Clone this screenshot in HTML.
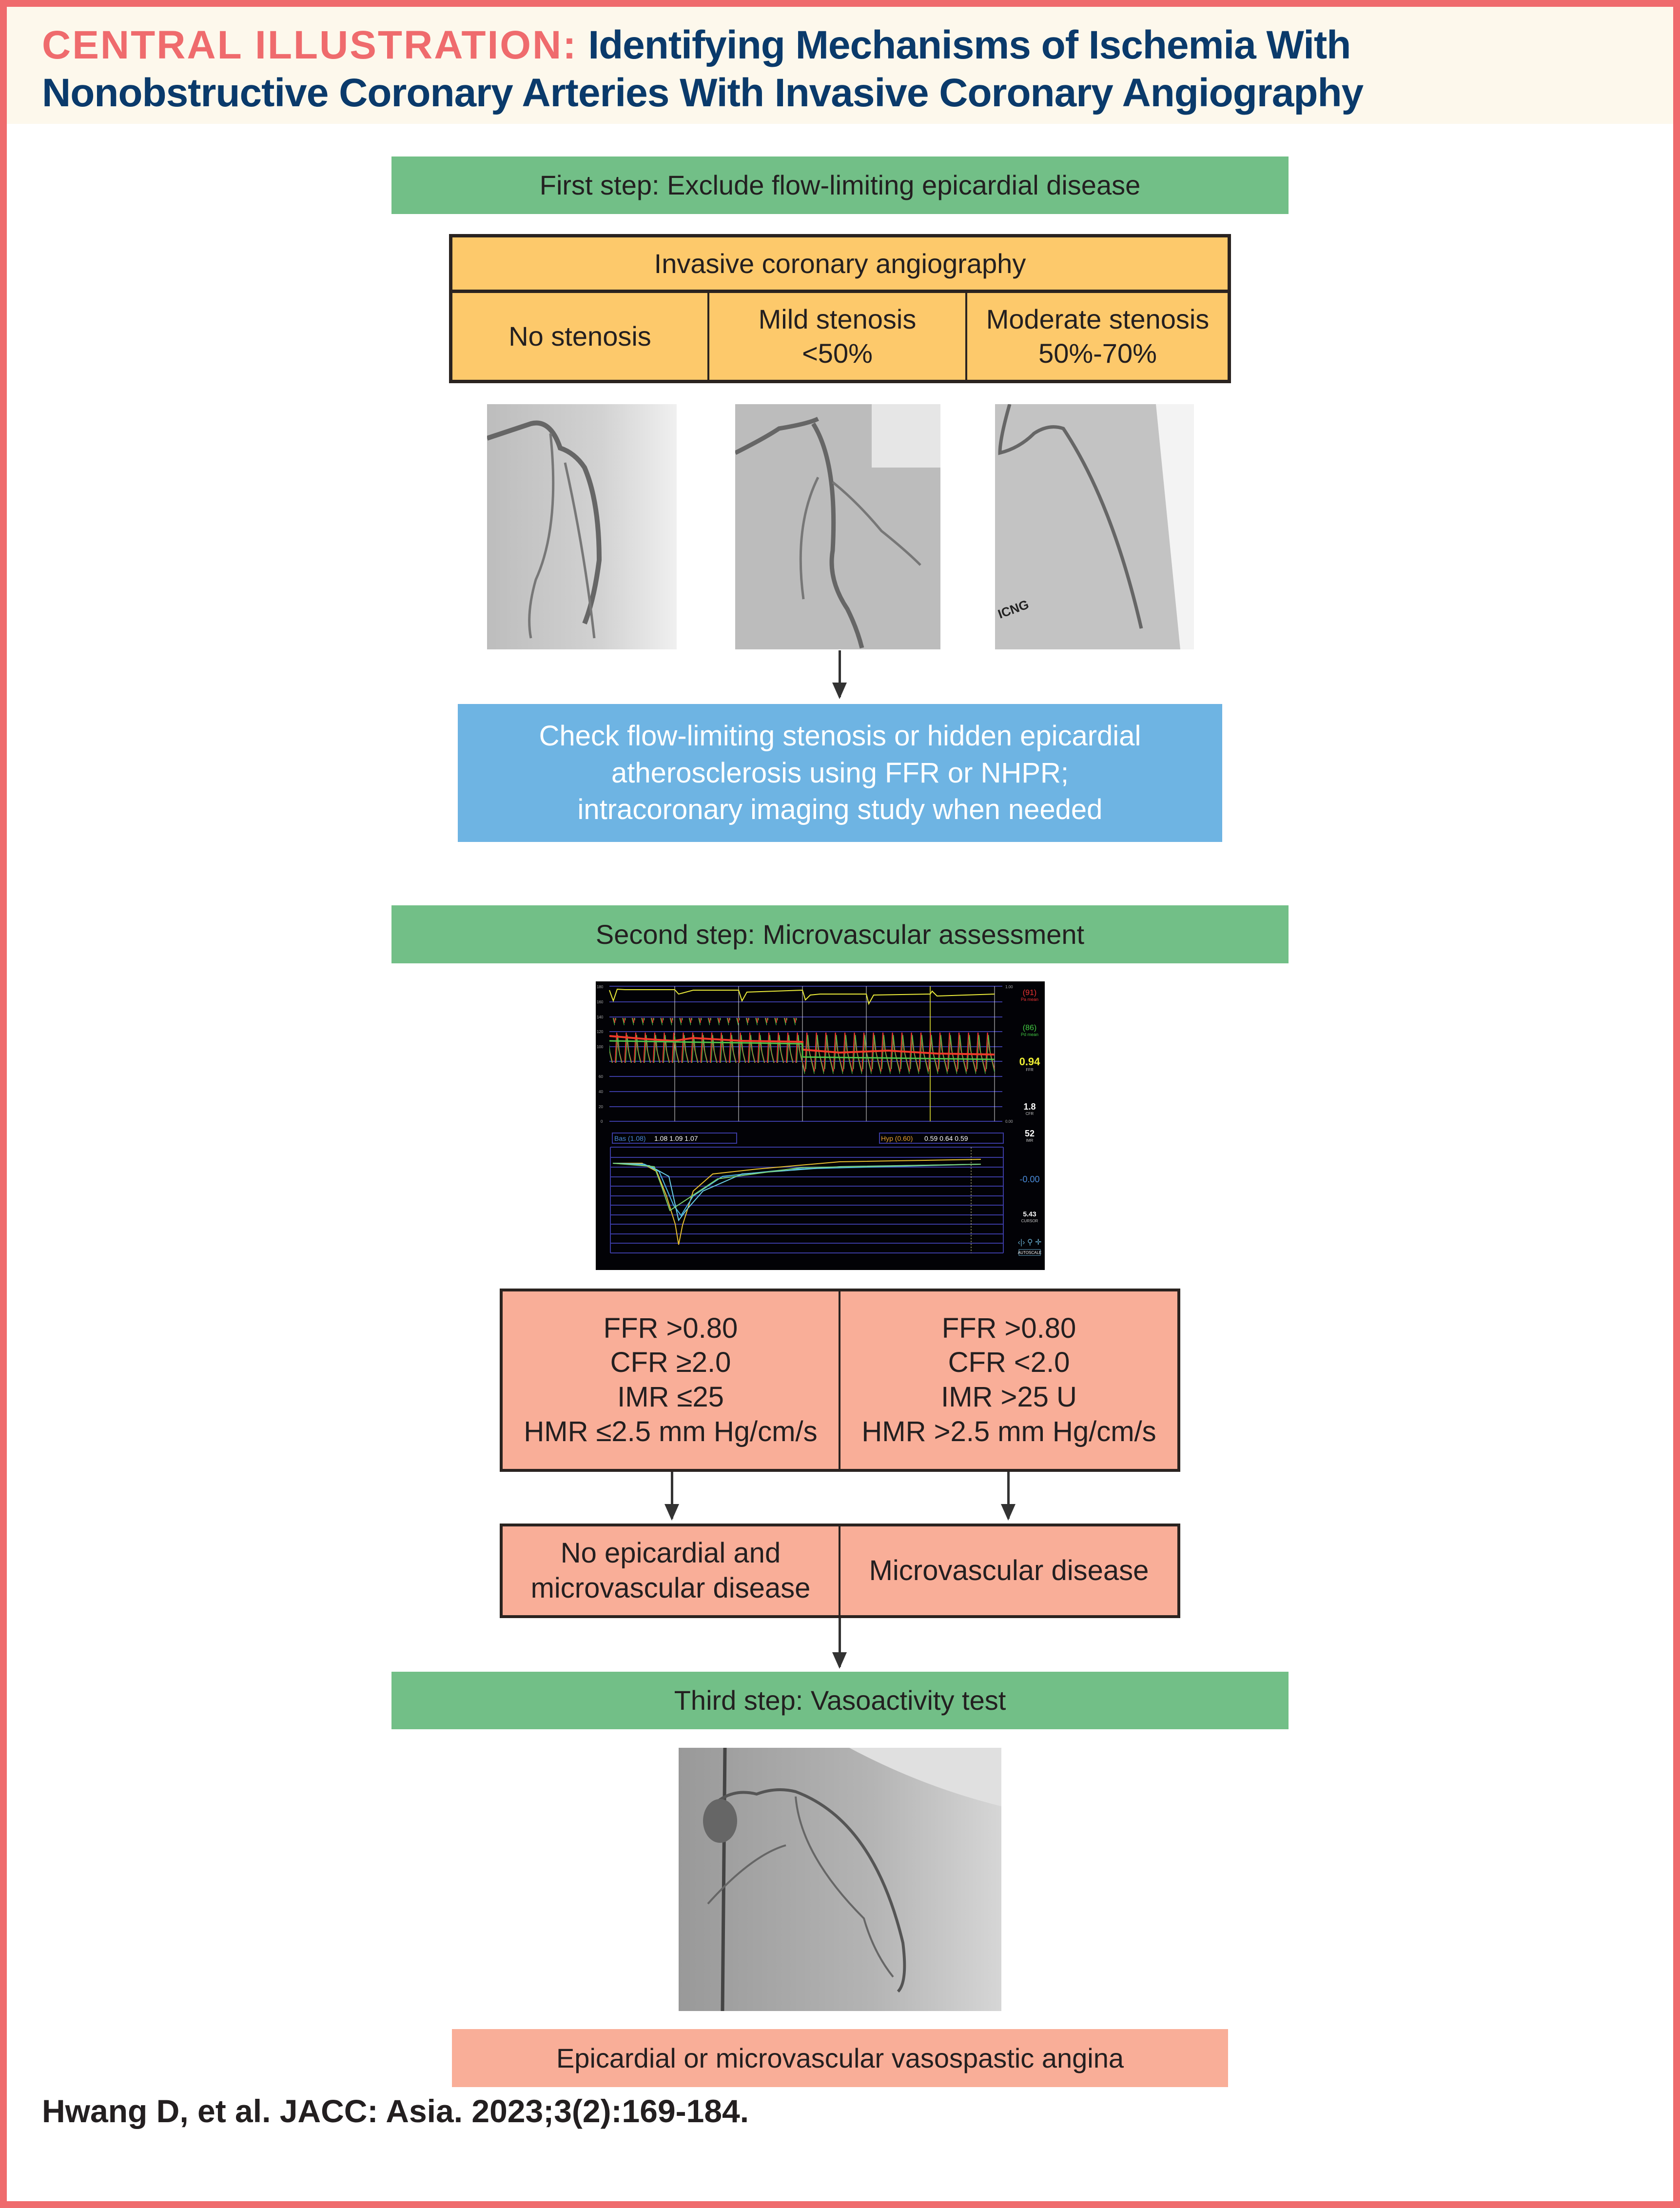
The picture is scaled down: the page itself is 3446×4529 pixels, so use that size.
<!DOCTYPE html>
<html><head><meta charset="utf-8"><style>
*{margin:0;padding:0;box-sizing:border-box}
body{width:3446px;height:4529px;position:relative;background:#fff;font-family:"Liberation Sans",sans-serif;overflow:hidden}
.a{position:absolute}
.c{display:flex;align-items:center;justify-content:center;text-align:center;color:#231f20;font-size:56px;line-height:1.25}
.g{background:#72bf87}
.s{background:#f9ae98}
.arrow{position:absolute;width:5px;background:#333}
.arrow:after{content:"";position:absolute;left:-13px;bottom:-4px;border-left:15px solid transparent;border-right:15px solid transparent;border-top:34px solid #333}
</style></head><body>
<div class="a" style="left:0;top:0;width:3446px;height:4529px;border:14px solid #ef6b6d"></div>
<div class="a" style="left:14px;top:14px;width:3418px;height:240px;background:#fdf8ec"></div>
<div class="a" style="left:86px;top:44px;font-size:82px;font-weight:bold;line-height:98px;color:#0a3a6b;letter-spacing:-1px">
<span style="color:#ef6b6d;letter-spacing:3px">CENTRAL ILLUSTRATION:</span> Identifying Mechanisms of Ischemia With<br>Nonobstructive Coronary Arteries With Invasive Coronary Angiography</div>

<div class="a c g" style="left:803px;top:321px;width:1840px;height:118px">First step: Exclude flow-limiting epicardial disease</div>

<div class="a" style="left:921px;top:480px;width:1604px;height:306px;background:#fdc96b;border:7px solid #2a2320"></div>
<div class="a" style="left:921px;top:594px;width:1604px;height:7px;background:#2a2320"></div>
<div class="a" style="left:1451px;top:598px;width:4px;height:188px;background:#2a2320"></div>
<div class="a" style="left:1980px;top:598px;width:4px;height:188px;background:#2a2320"></div>
<div class="a c" style="left:921px;top:487px;width:1604px;height:107px">Invasive coronary angiography</div>
<div class="a c" style="left:928px;top:601px;width:523px;height:178px">No stenosis</div>
<div class="a c" style="left:1455px;top:601px;width:525px;height:178px">Mild stenosis<br>&lt;50%</div>
<div class="a c" style="left:1984px;top:601px;width:535px;height:178px">Moderate stenosis<br>50%-70%</div>

<svg class="a" style="left:999px;top:829px" width="389" height="503" viewBox="0 0 389 503"><defs><linearGradient id="g1" x1="0" x2="1"><stop offset="0" stop-color="#bdbdbd"/><stop offset=".6" stop-color="#d2d2d2"/><stop offset="1" stop-color="#f0f0f0"/></linearGradient></defs><rect width="389" height="503" fill="url(#g1)"/><path d="M0 70 Q60 50 90 40 Q130 30 150 90 Q180 100 200 130 Q230 200 230 320 Q220 400 200 450" stroke="#666" stroke-width="10" fill="none"/><path d="M130 60 Q150 250 100 360 Q80 430 90 480 M160 120 Q200 300 220 480" stroke="#777" stroke-width="5" fill="none"/></svg>
<svg class="a" style="left:1508px;top:829px" width="421" height="503" viewBox="0 0 421 503"><rect width="421" height="503" fill="#bcbcbc"/><rect x="280" width="141" height="130" fill="#e6e6e6"/><path d="M0 100 Q60 70 90 50 Q150 40 170 30 M160 40 Q210 120 200 300 Q190 360 230 420 Q250 460 260 500" stroke="#666" stroke-width="9" fill="none"/><path d="M200 160 Q250 200 300 260 Q350 300 380 330 M170 150 Q120 250 140 400" stroke="#777" stroke-width="5" fill="none"/></svg>
<svg class="a" style="left:2041px;top:829px" width="408" height="503" viewBox="0 0 408 503"><rect width="408" height="503" fill="#c3c3c3"/><path d="M330 0 L408 0 L408 503 L380 503 Z" fill="#f3f3f3"/><path d="M30 0 Q10 70 10 100 Q50 90 80 60 Q110 40 140 50 Q240 200 300 460" stroke="#666" stroke-width="7" fill="none"/><text x="10" y="440" font-size="26" font-weight="bold" fill="#222" transform="rotate(-20 10 440)">ICNG</text></svg>

<div class="arrow" style="left:1720px;top:1334px;height:96px"></div>
<div class="a c" style="left:939px;top:1444px;width:1568px;height:283px;background:#6eb4e3;color:#fff;font-size:58px;line-height:1.3">Check flow-limiting stenosis or hidden epicardial<br>atherosclerosis using FFR or NHPR;<br>intracoronary imaging study when needed</div>

<div class="a c g" style="left:803px;top:1857px;width:1840px;height:119px">Second step: Microvascular assessment</div>

<svg class="a" style="left:1222px;top:2013px" width="921" height="592" viewBox="0 0 921 592">
<defs>
<pattern id="pr" width="19.5" height="100" patternUnits="userSpaceOnUse"><polyline points="0,85 4,5 8,40 19.5,85" fill="none" stroke="#e8322d" stroke-width="2"/><polyline points="2,80 6,10 10,50 19.5,90" fill="none" stroke="#4ec34a" stroke-width="1.4"/></pattern>
</defs>
<rect width="921" height="592" fill="#020206"/>
<g stroke="#3a3aa0" stroke-width="2"><line x1="28" y1="10" x2="834" y2="10"/><line x1="28" y1="42" x2="834" y2="42"/><line x1="28" y1="73" x2="834" y2="73"/><line x1="28" y1="103" x2="834" y2="103"/><line x1="28" y1="134" x2="834" y2="134"/><line x1="28" y1="164" x2="834" y2="164"/><line x1="28" y1="195" x2="834" y2="195"/><line x1="28" y1="226" x2="834" y2="226"/><line x1="28" y1="257" x2="834" y2="257"/><line x1="28" y1="287" x2="834" y2="287"/>
<line x1="30" y1="361" x2="836" y2="361"/><line x1="30" y1="381" x2="836" y2="381"/><line x1="30" y1="401" x2="836" y2="401"/><line x1="30" y1="420" x2="836" y2="420"/><line x1="30" y1="440" x2="836" y2="440"/><line x1="30" y1="459" x2="836" y2="459"/><line x1="30" y1="479" x2="836" y2="479"/><line x1="30" y1="498" x2="836" y2="498"/><line x1="30" y1="518" x2="836" y2="518"/><line x1="30" y1="537" x2="836" y2="537"/><line x1="30" y1="557" x2="836" y2="557"/><line x1="30" y1="340" x2="836" y2="340"/><line x1="30" y1="340" x2="30" y2="557"/><line x1="836" y1="340" x2="836" y2="557"/></g>
<g stroke="#ddd" stroke-width="1"><line x1="162" y1="10" x2="162" y2="287"/><line x1="293" y1="10" x2="293" y2="287"/><line x1="424" y1="10" x2="424" y2="287"/><line x1="555" y1="10" x2="555" y2="287"/><line x1="818" y1="10" x2="818" y2="287"/></g>
<line x1="686" y1="10" x2="686" y2="287" stroke="#ee3" stroke-width="1.5"/>
<rect x="28" y="75" width="396" height="92" fill="url(#pr)"/>
<rect x="424" y="95" width="394" height="95" fill="url(#pr)"/>
<polyline points="28,112 100,118 160,122 200,116 300,122 424,124 424,140 500,146 600,142 700,148 818,150" fill="none" stroke="#ef3a2a" stroke-width="4"/>
<polyline points="28,122 160,124 300,126 424,128 424,155 818,160" fill="none" stroke="#4ec34a" stroke-width="3"/>
<polyline points="28,18 36,40 44,16 60,17 162,17 170,26 200,18 293,18 300,40 310,22 424,18 430,38 440,28 460,26 555,26 560,46 570,28 686,26 690,20 700,30 818,26" fill="none" stroke="#eaea3a" stroke-width="2"/>
<g font-size="8" fill="#aaa"><text x="2" y="14">180</text><text x="2" y="45">160</text><text x="2" y="76">140</text><text x="2" y="106">120</text><text x="2" y="137">100</text><text x="6" y="198">60</text><text x="6" y="229">40</text><text x="6" y="260">20</text><text x="10" y="290">0</text><text x="840" y="14">1.00</text><text x="840" y="290">0.00</text></g>
<rect x="34" y="311" width="255" height="21" fill="none" stroke="#3a3aa0" stroke-width="2"/><text x="38" y="327" font-size="14" fill="#4a8ad8">Bas (1.08)</text><text x="120" y="327" font-size="14" fill="#fff">1.08  1.09  1.07</text>
<rect x="582" y="311" width="254" height="21" fill="none" stroke="#3a3aa0" stroke-width="2"/><text x="585" y="327" font-size="14" fill="#e8a030">Hyp (0.60)</text><text x="674" y="327" font-size="14" fill="#fff">0.59  0.64  0.59</text>
<polyline points="35,373 95,373 125,390 145,440 163,498 170,540 178,500 200,430 240,395 330,385 500,370 790,365" fill="none" stroke="#e8c030" stroke-width="2"/>
<polyline points="35,373 100,375 130,390 160,460 175,480 200,440 260,400 400,385 790,375" fill="none" stroke="#4cb8e8" stroke-width="2"/>
<polyline points="35,373 110,378 150,400 170,490 185,470 220,430 300,395 500,380 790,375" fill="none" stroke="#6ad0e8" stroke-width="2"/>
<polyline points="35,373 120,380 135,420 152,470 190,445 250,405 420,382 790,375" fill="none" stroke="#7ad070" stroke-width="2"/>
<line x1="770" y1="340" x2="770" y2="557" stroke="#dd9" stroke-dasharray="3 3"/>
<g font-family="Liberation Sans" text-anchor="middle"><text x="890" y="28" font-size="16" fill="#e33">(91)</text><text x="890" y="40" font-size="9" fill="#e33">Pa mean</text><text x="890" y="100" font-size="16" fill="#4c4">(86)</text><text x="890" y="112" font-size="9" fill="#4c4">Pd mean</text><text x="890" y="172" font-size="22" font-weight="bold" fill="#ee3">0.94</text><text x="890" y="184" font-size="8" fill="#ccc">FFR</text><text x="890" y="263" font-size="18" font-weight="bold" fill="#fff">1.8</text><text x="890" y="274" font-size="8" fill="#ccc">CFR</text><text x="890" y="318" font-size="18" font-weight="bold" fill="#fff">52</text><text x="890" y="329" font-size="8" fill="#ccc">IMR</text><text x="890" y="412" font-size="18" fill="#4a8ad8">-0.00</text><text x="890" y="482" font-size="14" font-weight="bold" fill="#fff">5.43</text><text x="890" y="494" font-size="8" fill="#ccc">CURSOR</text><text x="890" y="540" font-size="16" fill="#6ac">‹|› ⚲ ✛</text><rect x="868" y="550" width="44" height="12" fill="none" stroke="#6ac"/><text x="890" y="559" font-size="8" fill="#fff">AUTOSCALE</text></g>
</svg>

<div class="a s" style="left:1025px;top:2643px;width:1396px;height:376px;border:6px solid #2a2320"></div>
<div class="a" style="left:1720px;top:2643px;width:4px;height:376px;background:#2a2320"></div>
<div class="a c" style="left:1031px;top:2649px;width:689px;height:364px;font-size:58px;line-height:1.22">FFR &gt;0.80<br>CFR ≥2.0<br>IMR ≤25<br>HMR ≤2.5 mm Hg/cm/s</div>
<div class="a c" style="left:1724px;top:2649px;width:691px;height:364px;font-size:58px;line-height:1.22">FFR &gt;0.80<br>CFR &lt;2.0<br>IMR &gt;25 U<br>HMR &gt;2.5 mm Hg/cm/s</div>
<div class="arrow" style="left:1376px;top:3019px;height:96px"></div>
<div class="arrow" style="left:2066px;top:3019px;height:96px"></div>
<div class="a s" style="left:1025px;top:3125px;width:1396px;height:194px;border:6px solid #2a2320"></div>
<div class="a" style="left:1720px;top:3125px;width:4px;height:194px;background:#2a2320"></div>
<div class="a c" style="left:1031px;top:3131px;width:689px;height:182px;font-size:58px">No epicardial and<br>microvascular disease</div>
<div class="a c" style="left:1724px;top:3131px;width:691px;height:182px;font-size:58px">Microvascular disease</div>
<div class="arrow" style="left:1720px;top:3319px;height:100px"></div>

<div class="a c g" style="left:803px;top:3429px;width:1840px;height:118px">Third step: Vasoactivity test</div>

<svg class="a" style="left:1392px;top:3585px" width="662" height="540" viewBox="0 0 662 540"><defs><linearGradient id="g4" x1="0" y1="0" x2="1" y2="0"><stop offset="0" stop-color="#999"/><stop offset=".6" stop-color="#b4b4b4"/><stop offset="1" stop-color="#d6d6d6"/></linearGradient></defs><rect width="662" height="540" fill="url(#g4)"/><path d="M350 0 Q500 80 662 120 L662 0 Z" fill="#e0e0e0"/><line x1="95" y1="0" x2="90" y2="540" stroke="#444" stroke-width="7"/><path d="M60 130 Q100 80 160 95 Q200 80 240 90 Q400 150 460 400 Q470 480 450 500" stroke="#555" stroke-width="6" fill="none"/><path d="M240 100 Q250 220 380 350 Q400 420 440 470 M220 200 Q150 220 60 320" stroke="#666" stroke-width="4" fill="none"/><ellipse cx="85" cy="150" rx="35" ry="45" fill="#666"/></svg>

<div class="a c s" style="left:927px;top:4162px;width:1592px;height:119px">Epicardial or microvascular vasospastic angina</div>
<div class="a" style="left:86px;top:4292px;font-size:66px;font-weight:bold;color:#231f20">Hwang D, et al. JACC: Asia. 2023;3(2):169-184.</div>
</body></html>
